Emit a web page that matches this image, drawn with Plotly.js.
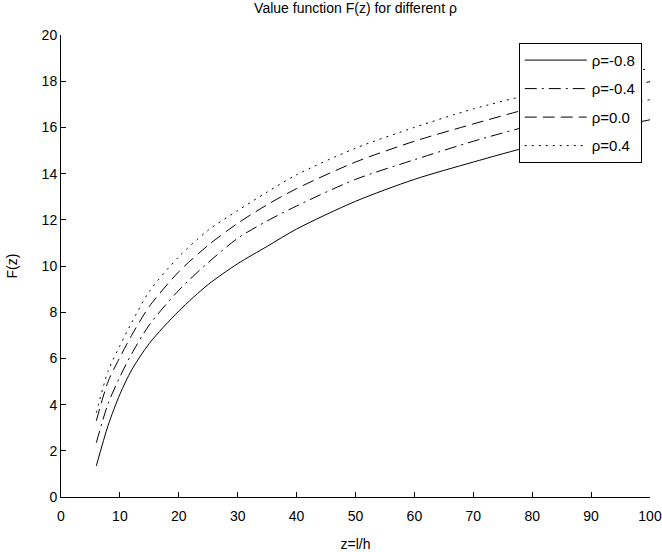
<!DOCTYPE html>
<html>
<head>
<meta charset="utf-8">
<script src="https://cdn.plot.ly/plotly-3.0.1.min.js"></script>
<style>html,body{margin:0;padding:0;background:#fff;}</style>
</head>
<body>
<div id="chart" style="width:662px;height:552px;"></div>
<script>
const z = [6, 8, 10, 12, 15, 20, 25, 30, 35, 40, 50, 60, 70, 80, 90, 100];
const F_m08 = [1.35, 3.1, 4.45, 5.5, 6.65, 8.05, 9.2, 10.1, 10.85, 11.6, 12.8, 13.75, 14.5, 15.2, 15.8, 16.33];
const F_m04 = [2.35, 4.05, 5.2, 6.2, 7.45, 8.95, 10.15, 11.2, 11.95, 12.6, 13.75, 14.6, 15.4, 16.1, 16.7, 17.2];
const F_00  = [3.3, 5.0, 6.05, 7.0, 8.25, 9.75, 10.9, 11.85, 12.65, 13.35, 14.5, 15.4, 16.15, 16.85, 17.45, 17.98];
const F_04  = [3.65, 5.45, 6.55, 7.55, 8.9, 10.4, 11.55, 12.4, 13.2, 13.95, 15.1, 16.0, 16.8, 17.45, 18.05, 18.56];
const names = ['ρ=-0.8', 'ρ=-0.4', 'ρ=0.0', 'ρ=0.4'];
const series = [F_m08, F_m04, F_00, F_04];
const dashes = ['solid', '12px,5px,2px,5px', '12px,6px', '2px,5px'];

const FONT = 'Liberation Sans, Arial, sans-serif';
const traces = series.map((ys, i) => ({
  x: z, y: ys, name: names[i], type: 'scatter', mode: 'lines',
  line: {color: '#000', width: 1, dash: dashes[i], shape: 'spline', smoothing: 0.8},
  legendgroup: 'g' + i
}));

const layout = {
  width: 662, height: 552,
  margin: {l: 61, r: 12, t: 35, b: 55},
  paper_bgcolor: '#fff', plot_bgcolor: '#fff',
  font: {family: FONT, size: 14, color: '#000'},
  title: {text: 'Value function F(z) for different ρ', x: 0.537, xanchor: 'center', y: 0.995, yanchor: 'top', font: {family: FONT, size: 14, color: '#000'}},
  xaxis: {
    range: [0, 100], dtick: 10, tick0: 0, ticks: 'inside', ticklen: 5, tickcolor: '#000',
    showline: true, linecolor: '#000', linewidth: 1, mirror: false, showgrid: false, zeroline: false,
    ticklabelstandoff: 6, automargin: false,
    title: {text: 'z=l/h', standoff: 18, font: {family: FONT, size: 14}},
    tickfont: {family: FONT, size: 14}
  },
  yaxis: {
    range: [0, 20], dtick: 2, tick0: 0, ticks: 'inside', ticklen: 5, tickcolor: '#000',
    showline: true, linecolor: '#000', linewidth: 1, mirror: false, showgrid: false, zeroline: false,
    automargin: false,
    title: {text: 'F(z)', standoff: 20, font: {family: FONT, size: 14}},
    tickfont: {family: FONT, size: 14}
  },
  showlegend: true,
  legend: {
    x: 0.986, xanchor: 'right', y: 0.983, yanchor: 'top',
    bgcolor: '#fff', bordercolor: '#000', borderwidth: 1,
    font: {family: FONT, size: 15, color: '#000'},
    traceorder: 'grouped', tracegroupgap: 6, itemwidth: 62
  }
};
Plotly.newPlot('chart', traces, layout, {displayModeBar: false, staticPlot: true});
</script>
</body>
</html>
